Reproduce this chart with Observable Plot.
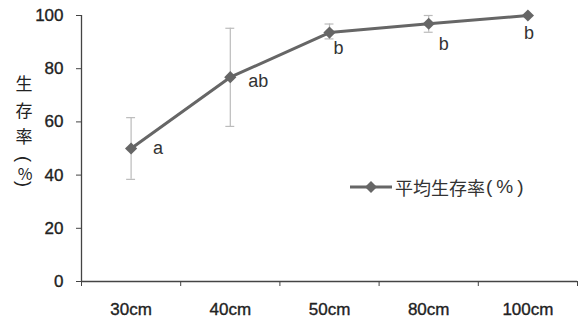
<!DOCTYPE html>
<html><head><meta charset="utf-8">
<script src="https://cdn.jsdelivr.net/npm/d3@7"></script>
<script src="https://cdn.jsdelivr.net/npm/@observablehq/plot@0.6"></script>
<style>
body{margin:0;background:#fff;}
#wrap{position:relative;width:578px;height:321px;font-family:"Liberation Sans",Arial,sans-serif;}
#ylab{position:absolute;left:0;top:0;font-family:"Noto Sans CJK JP",sans-serif;font-size:17px;color:#222;}
#ylab span{position:absolute;display:block;width:30px;text-align:center;height:20px;line-height:20px;left:9px;}
#ylab .rot{font-family:"Liberation Sans",Arial,sans-serif;font-size:18px;transform:rotate(90deg);}
#legend{position:absolute;left:350px;top:174px;display:flex;align-items:center;font-family:"Noto Sans CJK JP",sans-serif;font-size:18px;color:#333;white-space:nowrap;}
#legend svg{margin-right:3px;}
#legend .u{font-family:"Liberation Sans",Arial,sans-serif;font-size:19px;letter-spacing:4px;margin-left:1px;}
svg [aria-label$="tick label"]{stroke:#222;stroke-width:0.35px;}
</style>
</head><body>
<div id="wrap">
<div id="chart"></div>
<div id="ylab"><span style="top:73px">生</span><span style="top:100px">存</span><span style="top:126px">率</span><span class="rot" style="top:149px">(</span><span style="top:163px;font-size:16px;left:10px">%</span><span class="rot" style="top:174px">)</span></div>
<div id="legend"><svg width="42" height="14"><line x1="0" y1="7" x2="42" y2="7" stroke="#666" stroke-width="3"/><path d="M21,1 L27,7 L21,13 L15,7 Z" fill="#666"/></svg><span>平均生存率</span><span class="u">(%)</span></div>
</div>
<script>
const categories = ["30cm","40cm","50cm","80cm","100cm"];
const survival = [50, 76.8, 93.6, 96.9, 100];
const errLow = [38.4, 58.3, 91.2, 93.7, null];
const errHigh = [61.6, 95.2, 96.8, 100, null];
const letters = ["a","ab","b","b","b"];
const yTicks = [0,20,40,60,80,100];

const data = categories.map((c,i)=>({cat:c, xi:i+0.5, v:survival[i], lo:errLow[i], hi:errHigh[i], lab:letters[i]}));
const errData = data.filter(d=>d.lo!=null);
const cap = 0.045;
const lineColor = "#666";
const axisColor = "#444";

const plot = Plot.plot({
  width:578, height:321,
  marginLeft:81, marginRight:1, marginTop:15, marginBottom:40,
  style:{fontFamily:"'Liberation Sans',Arial,sans-serif", color:"#222", background:"#fff"},
  x:{type:"linear", domain:[0,categories.length], axis:null},
  y:{domain:[0,100], axis:null},
  marks:[
    Plot.axisY({ticks:yTicks, tickSize:5, tickPadding:13, fontSize:17, label:null, stroke:axisColor}),
    Plot.axisX({ticks:d3.range(categories.length+1), tickFormat:()=>"", tickSize:5, label:null, stroke:axisColor}),
    Plot.axisX({ticks:data.map(d=>d.xi), tickFormat:v=>categories[Math.floor(v)], tickSize:0, tickPadding:21, fontSize:17, label:null}),
    Plot.ruleX([0],{y1:0,y2:100,stroke:axisColor,strokeWidth:1.3}),
    Plot.ruleY([0],{stroke:axisColor,strokeWidth:1.3}),
    Plot.ruleX(errData,{x:"xi",y1:"lo",y2:"hi",stroke:"#bbb",strokeWidth:1.2}),
    Plot.ruleY(errData,{y:"lo",x1:d=>d.xi-cap,x2:d=>d.xi+cap,stroke:"#bbb",strokeWidth:1.2}),
    Plot.ruleY(errData,{y:"hi",x1:d=>d.xi-cap,x2:d=>d.xi+cap,stroke:"#bbb",strokeWidth:1.2}),
    Plot.line(data,{x:"xi",y:"v",stroke:lineColor,strokeWidth:3}),
    Plot.dot(data,{x:"xi",y:"v",symbol:"diamond2",r:5.5,fill:lineColor,stroke:null}),
    Plot.text([data[0]],{x:"xi",y:"v",text:"lab",dx:27,dy:0,fontSize:18,fill:"#333"}),
    Plot.text([data[1]],{x:"xi",y:"v",text:"lab",dx:28,dy:4,fontSize:18,fill:"#333"}),
    Plot.text([data[2]],{x:"xi",y:"v",text:"lab",dx:9,dy:16,fontSize:18,fill:"#333"}),
    Plot.text([data[3]],{x:"xi",y:"v",text:"lab",dx:15,dy:20,fontSize:18,fill:"#333"}),
    Plot.text([data[4]],{x:"xi",y:"v",text:"lab",dx:1,dy:18,fontSize:18,fill:"#333"})
  ]
});
document.getElementById("chart").appendChild(plot);
</script>
</body></html>
